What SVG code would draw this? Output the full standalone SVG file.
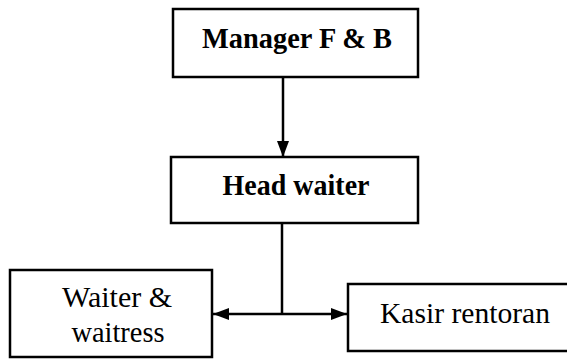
<svg xmlns="http://www.w3.org/2000/svg" width="567" height="360" viewBox="0 0 567 360">
<style>
.box{fill:#fff;stroke:#000;stroke-width:2.5}
.t{font-family:"Liberation Serif","Times New Roman","DejaVu Serif",serif;fill:#000;text-anchor:middle}
.b{font-weight:bold;font-size:29px}
.r{font-size:29px}
.ln{fill:none;stroke:#000;stroke-width:2.5}
</style>
<defs>
<marker id="ah" viewBox="0 0 16 12" refX="16" refY="6" markerWidth="16" markerHeight="12" markerUnits="userSpaceOnUse" orient="auto">
<path d="M0,0 L16,6 L0,12 z" fill="#000"/>
</marker>
</defs>
<rect width="567" height="360" fill="#fff"/>
<g id="manager">
<rect class="box" x="173" y="9" width="245" height="68"/>
<text class="t b" x="297" y="48" textLength="190" lengthAdjust="spacingAndGlyphs" font-family="Liberation Serif, serif">Manager F &amp; B</text>
</g>
<g id="head-waiter">
<rect class="box" x="171" y="157" width="247" height="66"/>
<text class="t b" x="296" y="195" textLength="147" lengthAdjust="spacingAndGlyphs" font-family="Liberation Serif, serif">Head waiter</text>
</g>
<g id="waiter">
<rect class="box" x="10" y="270" width="202" height="87"/>
<text class="t r" x="117" y="307" textLength="110" lengthAdjust="spacingAndGlyphs" font-family="Liberation Serif, serif">Waiter &amp;</text>
<text class="t r" x="118" y="342" textLength="93" lengthAdjust="spacingAndGlyphs" font-family="Liberation Serif, serif">waitress</text>
</g>
<g id="kasir">
<rect class="box" x="348" y="284" width="230" height="67"/>
<text class="t r" x="465" y="323" textLength="170" lengthAdjust="spacingAndGlyphs" font-family="Liberation Serif, serif">Kasir rentoran</text>
</g>
<g id="connectors">
<line class="ln" x1="283" y1="77" x2="283" y2="157" marker-end="url(#ah)"/>
<line class="ln" x1="282" y1="223" x2="282" y2="314"/>
<line class="ln" x1="282" y1="314" x2="213" y2="314" marker-end="url(#ah)"/>
<line class="ln" x1="282" y1="314" x2="347" y2="314" marker-end="url(#ah)"/>
</g>
</svg>
